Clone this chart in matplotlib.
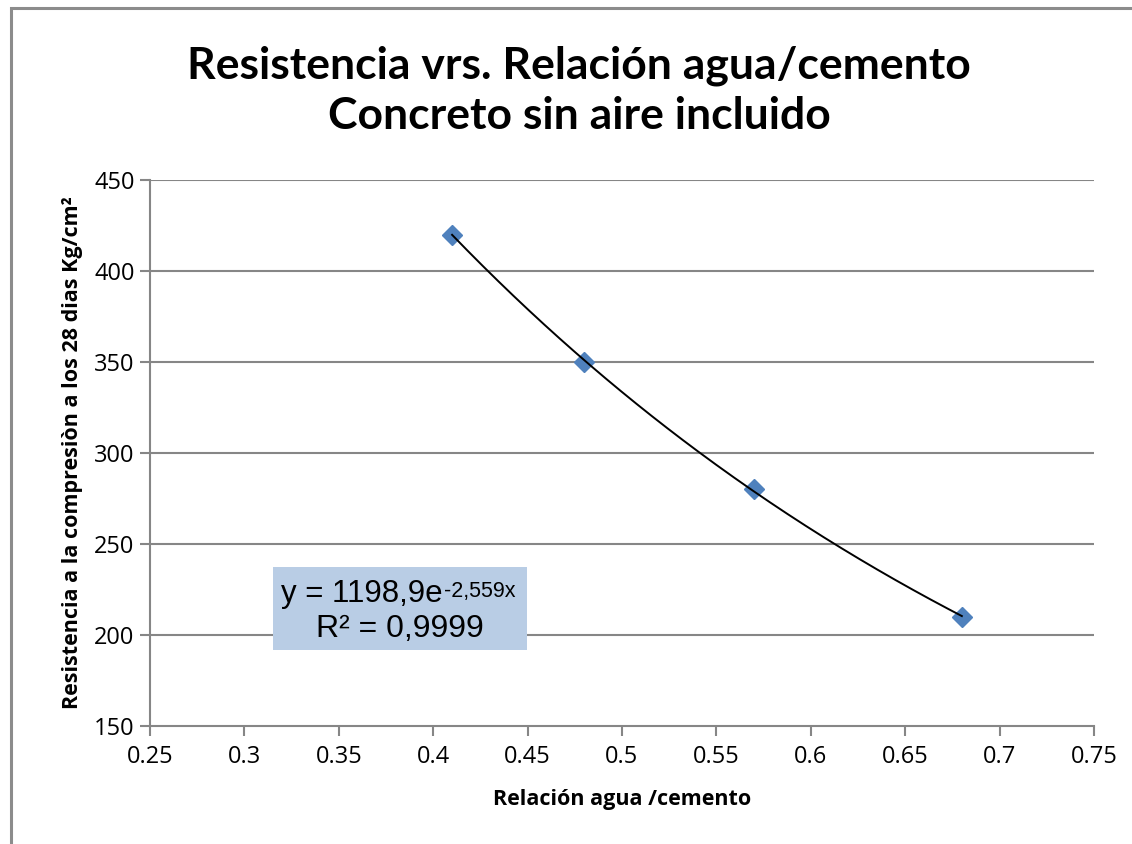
import numpy as np
import matplotlib
matplotlib.use("Agg")
import matplotlib.pyplot as plt
from matplotlib.patches import Rectangle

# Water/cement ratio vs. 28-day compressive strength
ratio = [0.41, 0.48, 0.57, 0.68]
strength = [420, 350, 280, 210]

# Exponential trend line y = a * exp(b * x)
fit_a = 1198.9
fit_b = -2.559
r_squared = "0,9999"

x_ticks = [0.25, 0.3, 0.35, 0.4, 0.45, 0.5, 0.55, 0.6, 0.65, 0.7, 0.75]
x_tick_labels = ["0.25", "0.3", "0.35", "0.4", "0.45", "0.5", "0.55", "0.6", "0.65", "0.7", "0.75"]
y_ticks = [150, 200, 250, 300, 350, 400, 450]

title = "Resistencia vrs. Relación agua/cemento\nConcreto sin aire incluido"
x_label = "Relación agua /cemento"
y_label = "Resistencia a la compresiòn a los 28 dias Kg/cm²"

W, H = 1132, 844
fig = plt.figure(figsize=(W / 100, H / 100), dpi=100)
fig.patch.set_facecolor("white")

# chart frame
fig.patches.append(Rectangle((11 / W, -0.1), 1.2, 1 - 8 / H + 0.1,
                             transform=fig.transFigure, fill=False,
                             edgecolor="#8c8c8c", linewidth=2.2))

ax = fig.add_axes([150 / W, 1 - 726 / H, (1094 - 150) / W, (726 - 180) / H])
ax.set_xlim(0.25, 0.75)
ax.set_ylim(150, 450)

grid_color = "#868686"
ax.set_yticks(y_ticks)
ax.set_xticks(x_ticks)
ax.set_xticklabels(x_tick_labels)
for y in y_ticks[1:]:
    ax.axhline(y, color=grid_color, linewidth=1.5, zorder=1)

for s in ("top", "right"):
    ax.spines[s].set_visible(False)
for s in ("left", "bottom"):
    ax.spines[s].set_color(grid_color)
    ax.spines[s].set_linewidth(1.5)

tick_font = "Open Sans"
ax.tick_params(axis="both", direction="out", length=7, width=1.5,
               color=grid_color, labelsize=17, labelcolor="black")
ax.tick_params(axis="x", pad=7)
ax.tick_params(axis="y", pad=4)
for lab in ax.get_xticklabels() + ax.get_yticklabels():
    lab.set_fontfamily(tick_font)

# trend line
xs = np.linspace(min(ratio), max(ratio), 200)
ax.plot(xs, fit_a * np.exp(fit_b * xs), color="black", linewidth=1.4, zorder=3)

# data points
ax.plot(ratio, strength, linestyle="none", marker="D", markersize=10.5,
        color="#4F81BD", markeredgecolor="#4F81BD", zorder=2)

ax.set_xlabel(x_label, fontsize=15.5, fontweight="bold", family="Open Sans", labelpad=14)
ax.set_ylabel(y_label, fontsize=15.5, fontweight="bold", family="Open Sans", labelpad=8)

fig.text(579 / W, 1 - 91 / H, title, ha="center", va="center",
         fontsize=32, fontweight="bold", family="Lato", linespacing=1.3)

# equation box with trend line formula
eq_box = Rectangle((273 / W, 1 - 650 / H), (527 - 273) / W, (650 - 567) / H,
                   transform=fig.transFigure, facecolor="#B9CDE5",
                   edgecolor="none", zorder=5)
fig.patches.append(eq_box)
eq_base = fig.text(281 / W, 1 - 594 / H, "y = 1198,9e",
                   ha="left", va="center", fontsize=22.5, family="Liberation Sans", zorder=6)
renderer = fig.canvas.get_renderer()
bb = eq_base.get_window_extent(renderer)
fig.text((bb.x1 + 1) / W, (bb.y1 - 2) / H, "-2,559x", ha="left", va="top",
         fontsize=15.5, family="Liberation Sans", zorder=6)
fig.text(400 / W, 1 - 629 / H, "R² = " + r_squared,
         ha="center", va="center", fontsize=23, family="Liberation Sans", zorder=6)

fig.savefig("out.png", dpi=100)
